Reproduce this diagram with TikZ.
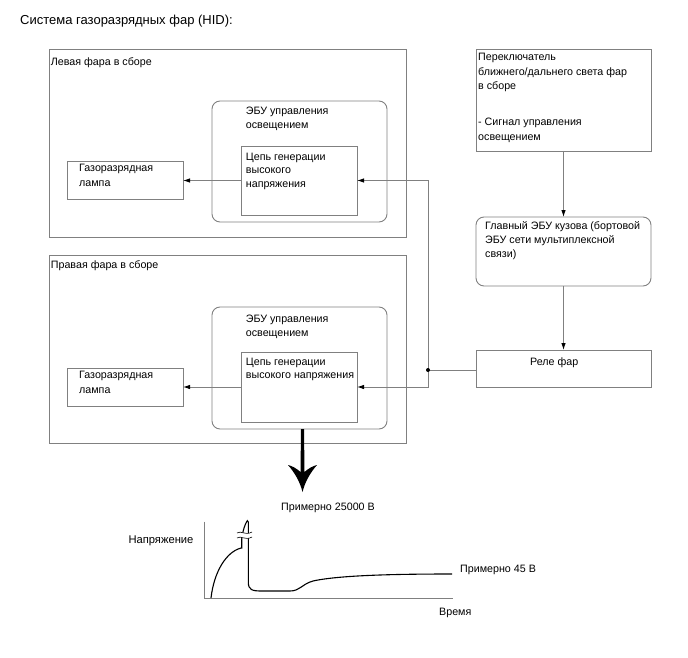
\documentclass[tikz,border=0pt]{standalone}
\usepackage{fontspec}
\setmainfont{Liberation Sans}
\usetikzlibrary{arrows.meta}
\definecolor{lg}{RGB}{128,128,128}
\begin{document}
\begin{tikzpicture}[x=1pt,y=-1pt,
  box/.style={draw=lg, line width=0.9pt, inner sep=0pt, outer sep=0pt, anchor=north west},
  rbox/.style={box, rounded corners=8pt},
  txt/.style={anchor=north west, inner sep=0pt, align=left, font=\fontsize{10.7}{14}\selectfont},
  conn/.style={draw=lg, line width=0.9pt, -{Latex[length=7pt,width=4.5pt,color=black]}},
  wire/.style={draw=lg, line width=0.9pt},
  axis/.style={draw=lg, line width=0.9pt},
  curve/.style={draw=black, line width=1.1pt}
]
\useasboundingbox (0,0) rectangle (688,658);
% left headlight
\node[box, minimum width=357pt, minimum height=188pt] (lh) at (49,49) {};
\node[rbox, minimum width=175pt, minimum height=121pt] (ecuL) at (212,101) {};
\node[box, minimum width=116pt, minimum height=69pt] (hvL) at (241,146) {};
\node[box, minimum width=116pt, minimum height=38pt] (lampL) at (67,161) {};
% right headlight
\node[box, minimum width=357pt, minimum height=188pt] (rh) at (49,255) {};
\node[rbox, minimum width=175pt, minimum height=122pt] (ecuR) at (212,307) {};
\node[box, minimum width=116pt, minimum height=70pt] (hvR) at (241,352) {};
\node[box, minimum width=116pt, minimum height=38pt] (lampR) at (67,368) {};
% right column
\node[box, minimum width=175pt, minimum height=102pt] (sw) at (476,49) {};
\node[rbox, minimum width=175pt, minimum height=69pt] (body) at (476,217) {};
\node[box, minimum width=175pt, minimum height=37pt] (relay) at (476,350) {};
% texts
\node[txt, font=\fontsize{13}{15}\selectfont] (title) at (20,15) {Система газоразрядных фар (HID):};
\node[txt] (lhT) at (50.7,57.3) {Левая фара в сборе};
\node[txt] (ecuLT) at (245.7,107.3) {ЭБУ управления\\освещением};
\node[txt, font=\fontsize{10.7}{13.5}\selectfont] (hvLT) at (245.7,152.7) {Цепь генерации\\высокого\\напряжения};
\node[txt, font=\fontsize{10.7}{15}\selectfont] (lampLT) at (79,164.3) {Газоразрядная\\лампа};
\node[txt] (rhT) at (50.7,260) {Правая фара в сборе};
\node[txt] (ecuRT) at (245.7,315) {ЭБУ управления\\освещением};
\node[txt, font=\fontsize{10.7}{13}\selectfont] (hvRT) at (245.7,358.3) {Цепь генерации\\высокого напряжения};
\node[txt, font=\fontsize{10.7}{15}\selectfont] (lampRT) at (79,370.7) {Газоразрядная\\лампа};
\node[txt, font=\fontsize{10.7}{14.3}\selectfont] (swT) at (478,53.3) {Переключатель\\ближнего/дальнего света фар\\в сборе\\[22pt]- Сигнал управления\\освещением};
\node[txt] (bodyT) at (485,221.7) {Главный ЭБУ кузова (бортовой\\ЭБУ сети мультиплексной\\связи)};
\node[txt] (relT) at (530,357.3) {Реле фар};
\node[txt] (v25) at (281,503) {Примерно 25000 В};
\node[txt, font=\fontsize{11.2}{14}\selectfont] (volt) at (128.3,536) {Напряжение};
\node[txt] (v45) at (460,565) {Примерно 45 В};
\node[txt] (time) at (439,608) {Время};
% connectors
\coordinate (j) at (428,370);
\draw[wire] (relay.west |- j) -- (j);
\draw[conn] (j) |- (hvL.east);
\draw[conn] (j) |- (hvR.east);
\fill (j) circle (2pt);
\draw[conn] (hvL.west) -- (hvL.west -| lampL.east);
\draw[conn] (hvR.west) -- (hvR.west -| lampR.east);
\draw[conn] (sw.south) -- (body.north);
\draw[conn] (body.south) -- (relay.north);
% big arrow
\fill (301,429) -- (304,429) -- (304.5,472) .. controls (309,468) and (313,466) .. (317,465)
  .. controls (310,473) and (305,482) .. (302.5,492)
  .. controls (300,482) and (295,473) .. (288,465)
  .. controls (292,466) and (296,468) .. (300.5,472) -- cycle;
% graph
\draw[axis] (204,521.5) -- (204,598) -- (453,598);
\draw[curve] (211,598) .. controls (214,572) and (226,552) .. (241,548) -- (241.7,548) -- (241.7,539)
  .. controls (243,530) and (245,524) .. (247.3,520.7) -- (248.3,522) -- (248.3,582)
  .. controls (248.3,590) and (252,591) .. (262,591) -- (290,591)
  .. controls (300,591) and (302,584) .. (313,581)
  .. controls (340,575) and (400,574) .. (452,574);
\fill[white] (237,533) .. controls (241,530) and (245,536) .. (252,532) -- (252,537)
  .. controls (245,541) and (241,535) .. (237,538) -- cycle;
\draw[line width=0.6pt] (237,533) .. controls (241,530) and (245,536) .. (252,532);
\draw[line width=0.6pt] (237,538) .. controls (241,535) and (245,541) .. (252,537);
\end{tikzpicture}
\end{document}
